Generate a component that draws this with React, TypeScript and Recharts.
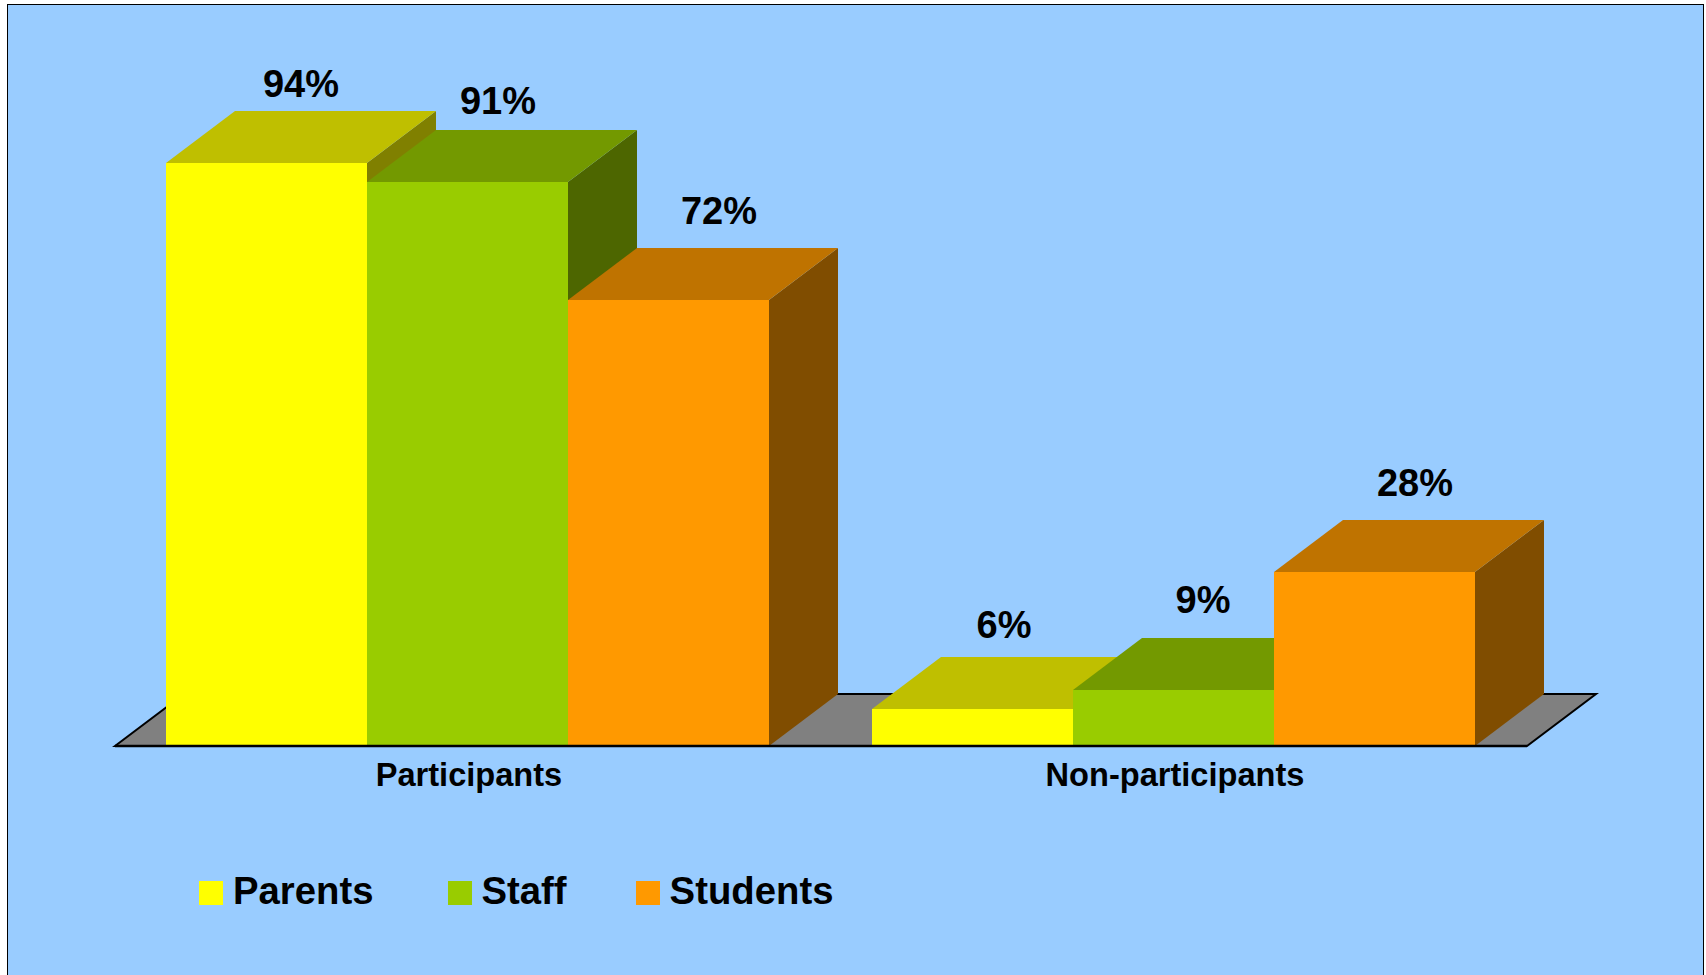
import { BarChart, Bar, XAxis, YAxis, Legend, LabelList, ReferenceArea } from "recharts";

const categories = ["Participants", "Non-participants"];
const parents = [94, 6];
const staff = [91, 9];
const students = [72, 28];
const seriesNames = ["Parents", "Staff", "Students"];

const tableData = categories.map((name, i) => ({
  name,
  Parents: parents[i],
  Staff: staff[i],
  Students: students[i],
}));

const FONT = '"Liberation Sans", Arial, sans-serif';
const DEPTH_X = 69;
const DEPTH_Y = 52;

// front / top / side shades for the fake 3D boxes
const shades: Record<string, { front: string; top: string; side: string }> = {
  Parents: { front: "#ffff00", top: "#bfbf00", side: "#808000" },
  Staff: { front: "#99cc00", top: "#739900", side: "#4d6600" },
  Students: { front: "#ff9900", top: "#bf7300", side: "#804d00" },
};

// labels in the original are not quite centred on the box tops: [dx, dy] per category
const labelNudge: Record<string, number[][]> = {
  Parents: [[0, 0], [-3, -5]],
  Staff: [[-4, -2], [-5, -11]],
  Students: [[16, -10], [6, -10]],
};

// space after each legend entry
const legendGaps = [74, 69, 0];

function Box3D(props: any) {
  const { width, height, dataKey } = props;
  const c = shades[dataKey];
  // snap to whole pixels so the faces meet without a soft seam
  const x = Math.round(props.x);
  const y = Math.round(props.y);
  const bottom = Math.round(props.y + height);
  const right = Math.round(props.x + width);
  return (
    <g>
      <polygon
        points={`${right},${y} ${right + DEPTH_X},${y - DEPTH_Y} ${right + DEPTH_X},${bottom - DEPTH_Y} ${right},${bottom}`}
        fill={c.side}
      />
      <polygon
        points={`${x},${y} ${x + DEPTH_X},${y - DEPTH_Y} ${right + DEPTH_X},${y - DEPTH_Y} ${right},${y}`}
        fill={c.top}
      />
      <rect x={x} y={y} width={right - x} height={bottom - y} fill={c.front} />
    </g>
  );
}

function Floor(props: any) {
  const { x, y, width, height } = props;
  return (
    <polygon
      points={`${x},${y + height} ${x + height * (DEPTH_X / DEPTH_Y)},${y} ${x + width + height * (DEPTH_X / DEPTH_Y)},${y} ${x + width},${y + height}`}
      fill="#808080"
      stroke="#000"
      strokeWidth={2}
    />
  );
}

const makeLabel = (key: string) => (props: any) => {
  const { x, y, width, value, index } = props;
  const [dx, dy] = labelNudge[key][index];
  return (
    <text
      x={x + width / 2 + DEPTH_X / 2 + dx}
      y={y - DEPTH_Y - 14 + dy}
      textAnchor="middle"
      fontFamily={FONT}
      fontWeight="bold"
      fontSize={38}
      fill="#000"
    >
      {value}%
    </text>
  );
};

function LegendRow() {
  return (
    <div style={{ display: "flex", fontFamily: FONT, fontWeight: "bold", fontSize: 38.3, color: "#000", lineHeight: "44px" }}>
      {seriesNames.map((name, i) => (
        <div key={name} style={{ display: "flex", alignItems: "center", marginRight: legendGaps[i] }}>
          <span style={{ width: 24, height: 24, background: shades[name].front, marginRight: 10, marginTop: 4 }} />
          <span>{name}</span>
        </div>
      ))}
    </div>
  );
}

export default function App() {
  return (
    <div style={{ position: "absolute", left: 0, top: 0, width: 1706, height: 975, background: "#fff", overflow: "hidden" }}>
      <div
        style={{
          position: "absolute",
          left: 7,
          top: 4,
          width: 1697,
          height: 975,
          boxSizing: "border-box",
          background: "#99ccff",
          border: "1px solid #000",
        }}
      />
      <div style={{ position: "absolute", left: 0, top: 0 }}>
        <BarChart
          width={1706}
          height={975}
          data={tableData}
          margin={{ top: 126, right: 179, bottom: 149, left: 115 }}
          barCategoryGap={51}
          barGap={0}
        >
          <ReferenceArea x1={categories[0]} x2={categories[1]} y1={0} y2={DEPTH_Y / 6.2} shape={Floor} />
          <XAxis
            dataKey="name"
            interval={0}
            axisLine={{ stroke: "#000", strokeWidth: 2.5 }}
            tickLine={false}
            tickMargin={11}
            dx={1}
            tick={{ fontFamily: FONT, fontWeight: "bold", fontSize: 32.6, fill: "#000" }}
          />
          <YAxis hide domain={[0, 100]} />
          <Legend
            verticalAlign="bottom"
            height={50}
            content={() => <LegendRow />}
            wrapperStyle={{ position: "absolute", left: 199, top: 869, width: 800, height: 50 }}
          />
          {seriesNames.map((name) => (
            <Bar key={name} dataKey={name} shape={Box3D} isAnimationActive={false}>
              <LabelList dataKey={name} content={makeLabel(name)} />
            </Bar>
          ))}
        </BarChart>
      </div>
    </div>
  );
}
